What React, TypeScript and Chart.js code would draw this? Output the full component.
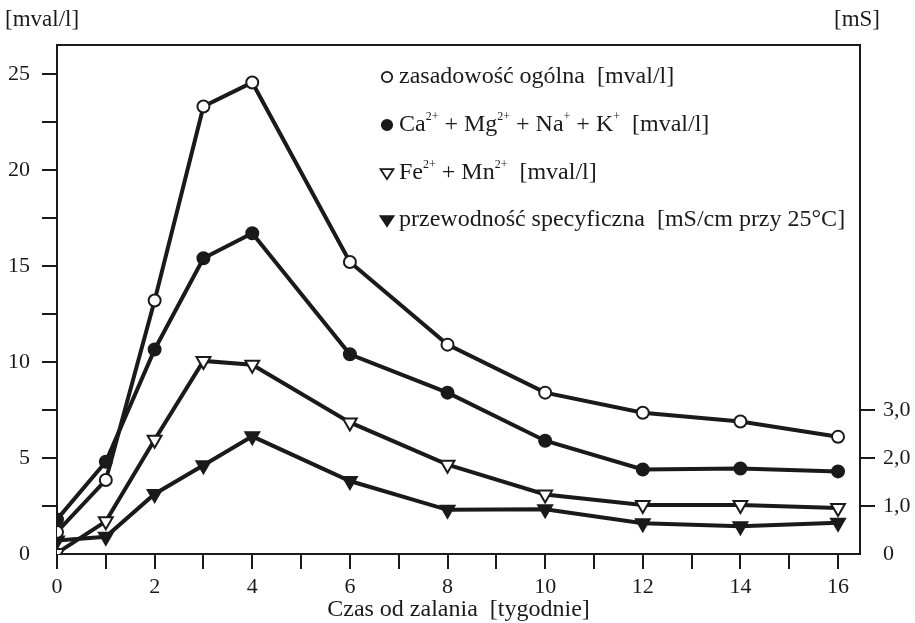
import React, { useEffect, useRef } from 'react';
import { Chart, registerables } from 'chart.js';

Chart.register(...registerables);

// ---- data ----
const weeks = [0, 1, 2, 3, 4, 6, 8, 10, 12, 14, 16];
const alkalinity = [1.15, 3.85, 13.2, 23.3, 24.55, 15.2, 10.9, 8.4, 7.35, 6.9, 6.1];
const cations = [1.8, 4.8, 10.65, 15.4, 16.7, 10.4, 8.4, 5.9, 4.4, 4.45, 4.3];
const feMn = [0.05, 1.7, 5.95, 10.05, 9.85, 6.85, 4.65, 3.1, 2.55, 2.55, 2.4];
const conductivity = [0.28, 0.36, 1.25, 1.85, 2.45, 1.52, 0.92, 0.93, 0.64, 0.58, 0.65];

const xTicks = [0, 1, 2, 3, 4, 5, 6, 7, 8, 9, 10, 11, 12, 13, 14, 15, 16];
const leftTicks = [0, 2.5, 5, 7.5, 10, 12.5, 15, 17.5, 20, 22.5, 25];
const leftLabelled = [0, 5, 10, 15, 20, 25];
const rightTicks = [0, 1, 2, 3];
const rightLabels = ['0', '1,0', '2,0', '3,0'];

const leftTitle = '[mval/l]';
const rightTitle = '[mS]';
const xTitle = 'Czas od zalania  [tygodnie]';

type Seg = { t: string; sup?: boolean };
const legendItems: { style: string; filled: boolean; segs: Seg[] }[] = [
  { style: 'circle', filled: false, segs: [{ t: 'zasadowość ogólna  [mval/l]' }] },
  {
    style: 'circle', filled: true, segs: [
      { t: 'Ca' }, { t: '2+', sup: true }, { t: ' + Mg' }, { t: '2+', sup: true },
      { t: ' + Na' }, { t: '+', sup: true }, { t: ' + K' }, { t: '+', sup: true }, { t: '  [mval/l]' },
    ],
  },
  {
    style: 'triangle', filled: false, segs: [
      { t: 'Fe' }, { t: '2+', sup: true }, { t: ' + Mn' }, { t: '2+', sup: true }, { t: '  [mval/l]' },
    ],
  },
  { style: 'triangle', filled: true, segs: [{ t: 'przewodność specyficzna  [mS/cm przy 25°C]' }] },
];

const INK = '#1a1a1a';
const FONT = "'Liberation Serif', 'Times New Roman', serif";
const FS = 22;
const LEG_FS = 24;
const TITLE_FS = 23;

function drawSymbol(ctx: CanvasRenderingContext2D, style: string, filled: boolean, x: number, y: number) {
  ctx.save();
  ctx.lineWidth = 1.8;
  ctx.strokeStyle = INK;
  ctx.fillStyle = filled ? INK : '#fff';
  ctx.beginPath();
  if (style === 'circle') {
    ctx.arc(x, y, 5.2, 0, Math.PI * 2);
  } else {
    const r = 6.5;
    ctx.moveTo(x - r, y - r * 0.6);
    ctx.lineTo(x + r, y - r * 0.6);
    ctx.lineTo(x, y + r * 0.95);
    ctx.closePath();
  }
  ctx.fill();
  ctx.stroke();
  ctx.restore();
}

const overlayPlugin = {
  id: 'overlay',
  beforeDatasetsDraw(chart: any) {
    const { ctx, chartArea: a } = chart;
    ctx.save();
    ctx.strokeStyle = INK;
    ctx.lineWidth = 2;
    ctx.strokeRect(a.left, a.top, a.right - a.left, a.bottom - a.top);
    ctx.restore();
  },
  afterDraw(chart: any) {
    const { ctx, chartArea: a } = chart;
    ctx.save();
    ctx.fillStyle = INK;
    ctx.font = `${TITLE_FS}px ${FONT}`;
    ctx.textBaseline = 'alphabetic';
    ctx.textAlign = 'left';
    ctx.fillText(leftTitle, 5, 26);
    ctx.textAlign = 'right';
    ctx.fillText(rightTitle, 880, 26);
    ctx.textAlign = 'center';
    ctx.font = `${LEG_FS}px ${FONT}`;
    ctx.fillText(xTitle, (a.left + a.right) / 2, 616);

    // legend
    const baseY = [83, 131, 179, 226];
    legendItems.forEach((item, i) => {
      const by = baseY[i];
      drawSymbol(ctx, item.style, item.filled, 387, by - 6);
      let x = 399;
      ctx.textAlign = 'left';
      item.segs.forEach((s) => {
        if (s.sup) {
          ctx.font = `${12}px ${FONT}`;
          ctx.fillText(s.t, x, by - 11);
        } else {
          ctx.font = `${LEG_FS}px ${FONT}`;
          ctx.fillText(s.t, x, by);
        }
        x += ctx.measureText(s.t).width;
      });
    });
    ctx.restore();
  },
};

export default function App() {
  const ref = useRef<HTMLCanvasElement | null>(null);

  useEffect(() => {
    document.body.style.margin = '0';
    const canvas = ref.current;
    if (!canvas) return;
    Chart.defaults.font.family = FONT;
    Chart.defaults.color = INK;

    const lineBase = {
      borderColor: INK,
      borderWidth: 4,
      pointBorderColor: INK,
      pointBorderWidth: 2,
      tension: 0,
    };

    const chart = new Chart(canvas, {
      type: 'line',
      data: {
        datasets: [
          {
            ...lineBase,
            label: 'zasadowość ogólna',
            data: weeks.map((w, i) => ({ x: w, y: alkalinity[i] })),
            pointStyle: 'circle',
            pointRadius: 6,
            pointBackgroundColor: '#fff',
            yAxisID: 'y',
          },
          {
            ...lineBase,
            label: 'Ca + Mg + Na + K',
            data: weeks.map((w, i) => ({ x: w, y: cations[i] })),
            pointStyle: 'circle',
            pointRadius: 6,
            pointBackgroundColor: INK,
            yAxisID: 'y',
          },
          {
            ...lineBase,
            label: 'Fe + Mn',
            data: weeks.map((w, i) => ({ x: w, y: feMn[i] })),
            pointStyle: 'triangle',
            pointRotation: 180,
            pointRadius: 8,
            pointBackgroundColor: '#fff',
            yAxisID: 'y',
          },
          {
            ...lineBase,
            label: 'przewodność specyficzna',
            data: weeks.map((w, i) => ({ x: w, y: conductivity[i] })),
            pointStyle: 'triangle',
            pointRotation: 180,
            pointRadius: 8,
            pointBackgroundColor: INK,
            yAxisID: 'y1',
          },
        ],
      },
      options: {
        responsive: false,
        animation: false,
        layout: { padding: { top: 45, left: 0, right: 0, bottom: 0 } },
        plugins: { legend: { display: false }, tooltip: { enabled: false }, title: { display: false } },
        scales: {
          x: {
            type: 'linear',
            min: 0,
            max: 16.45,
            border: { display: false },
            grid: { drawOnChartArea: false, drawTicks: true, tickLength: 15, color: INK, lineWidth: 2 },
            afterBuildTicks: (s: any) => { s.ticks = xTicks.map((v) => ({ value: v })); },
            afterFit: (s: any) => { s.height = 69; },
            ticks: {
              autoSkip: false,
              maxRotation: 0,
              padding: 5,
              font: { size: FS, family: FONT },
              color: INK,
              callback: (v: any) => (Number(v) % 2 === 0 ? String(v) : ''),
            },
          },
          y: {
            type: 'linear',
            position: 'left',
            min: 0,
            max: 26.5,
            border: { display: false },
            grid: {
              drawOnChartArea: false, drawTicks: true, tickLength: 15, lineWidth: 2,
              color: (c: any) => (c.tick && c.tick.value === 0 ? 'rgba(0,0,0,0)' : INK),
            },
            afterBuildTicks: (s: any) => { s.ticks = leftTicks.map((v) => ({ value: v })); },
            afterFit: (s: any) => { s.width = 57; },
            ticks: {
              padding: 12,
              font: { size: FS, family: FONT },
              color: INK,
              callback: (v: any) => (leftLabelled.includes(Number(v)) ? String(v) : ''),
            },
          },
          y1: {
            type: 'linear',
            position: 'right',
            min: 0,
            max: 10.6,
            border: { display: false },
            grid: {
              drawOnChartArea: false, drawTicks: true, tickLength: 15, lineWidth: 2,
              color: (c: any) => (c.tick && c.tick.value === 0 ? 'rgba(0,0,0,0)' : INK),
            },
            afterBuildTicks: (s: any) => { s.ticks = rightTicks.map((v) => ({ value: v })); },
            afterFit: (s: any) => { s.width = 55; },
            ticks: {
              padding: 8,
              font: { size: FS, family: FONT },
              color: INK,
              callback: (v: any) => {
                const i = rightTicks.indexOf(Number(v));
                return i >= 0 ? rightLabels[i] : '';
              },
            },
          },
        },
      },
      plugins: [overlayPlugin],
    } as any);

    return () => chart.destroy();
  }, []);

  return (
    <div style={{ position: 'absolute', left: 0, top: 0, width: 915, height: 623, background: '#fff' }}>
      <canvas ref={ref} width={915} height={623} style={{ width: 915, height: 623, display: 'block' }} />
    </div>
  );
}
